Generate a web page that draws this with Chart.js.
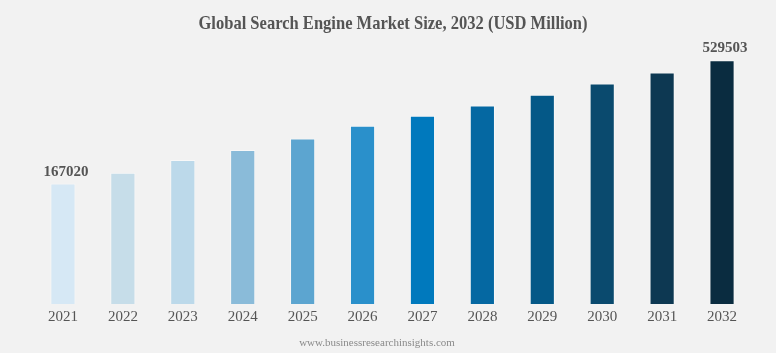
<!DOCTYPE html>
<html>
<head>
<meta charset="utf-8">
<script src="https://cdn.jsdelivr.net/npm/chart.js@4"></script>
<style>
  html, body { margin: 0; padding: 0; background: #f2f2f2; }
  #wrap { width: 776px; height: 353px; }
</style>
</head>
<body>
<div id="wrap"><canvas id="chart" width="776" height="353"></canvas></div>
<script>
var years = ['2021', '2022', '2023', '2024', '2025', '2026', '2027', '2028', '2029', '2030', '2031', '2032'];
var marketSize = [167020, 185050, 208340, 228660, 254890, 286880, 314960, 346700, 383040, 425730, 471660, 529503];
var barColors = ['#d6e8f5', '#c6dde9', '#bcd9ea', '#8abbd9', '#5ca5d0', '#2a90cb', '#0079bd', '#0568a2', '#045887', '#0a4a6e', '#0d3852', '#0a2c40'];
var labelledBars = [0, 11];
var titleText = 'Global Search Engine Market Size, 2032 (USD Million)';
var footerText = 'www.businessresearchinsights.com';

// title (narrow bold serif), value labels over first and last bar, site footer
var extras = {
    id: 'extras',
    afterDatasetsDraw: function(chart) {
        var ctx = chart.ctx;
        var meta = chart.getDatasetMeta(0);
        ctx.save();
        ctx.fillStyle = '#555555';
        ctx.font = 'bold 15px "Liberation Serif"';
        ctx.textAlign = 'center';
        ctx.textBaseline = 'alphabetic';
        labelledBars.forEach(function(i) {
            var bar = meta.data[i];
            ctx.fillText(String(marketSize[i]), bar.x + 3, bar.y - 8);
        });

        ctx.save();
        ctx.translate(393, 29);
        ctx.scale(0.87, 1);
        ctx.font = 'bold 19px "Liberation Serif"';
        ctx.fillText(titleText, 0, 0);
        ctx.restore();

        ctx.fillStyle = '#8a8a8a';
        ctx.font = '11px "Liberation Serif"';
        ctx.textBaseline = 'middle';
        ctx.fillText(footerText, 377, 343);
        ctx.restore();
    }
};

var ctx = document.getElementById('chart').getContext('2d');
var chart = new Chart(ctx, {
    type: 'bar',
    data: {
        labels: years,
        datasets: [{
            data: marketSize,
            backgroundColor: barColors,
            borderColor: 'rgba(255,255,255,0.45)',
            borderWidth: 1,
            barPercentage: 0.42,
            categoryPercentage: 1.0
        }]
    },
    options: {
        responsive: false,
        animation: false,
        layout: {
            padding: { left: 33, right: 24, top: 46, bottom: 23 }
        },
        plugins: {
            legend: { display: false },
            tooltip: { enabled: false },
            title: { display: false }
        },
        scales: {
            x: {
                grid: { display: false, drawTicks: false },
                border: { display: false },
                ticks: {
                    color: '#555555',
                    padding: 4,
                    font: { family: '"Liberation Serif"', size: 15 }
                }
            },
            y: {
                type: 'logarithmic',
                display: false,
                min: 54170,
                max: 605000
            }
        }
    },
    plugins: [extras]
});
</script>
</body>
</html>
